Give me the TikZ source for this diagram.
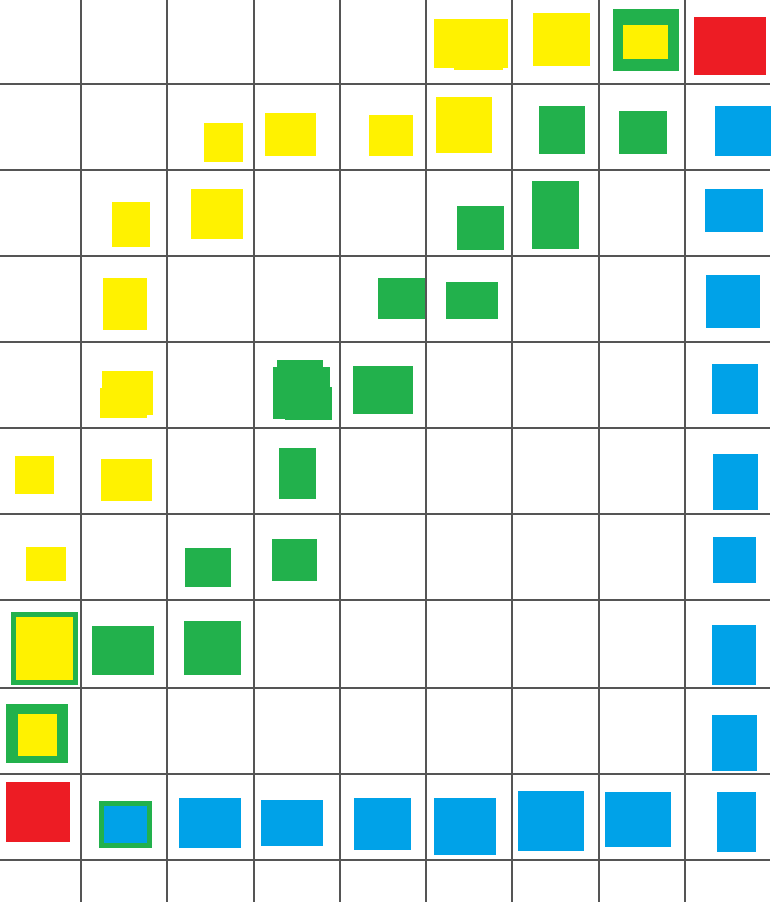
\documentclass[tikz,border=0pt]{standalone}
\definecolor{yel}{RGB}{255,242,0}
\definecolor{grn}{RGB}{34,177,76}
\definecolor{rd}{RGB}{237,28,36}
\definecolor{blu}{RGB}{0,162,232}
\definecolor{gridc}{RGB}{85,85,85}
\begin{document}
\begin{tikzpicture}[x=1pt,y=-1pt,
  gridline/.style={draw=gridc,line width=2.6pt},
  Y/.style={fill=yel},
  G/.style={fill=grn},
  R/.style={fill=rd},
  B/.style={fill=blu}]
\useasboundingbox[fill=white] (0,0) rectangle (780,902);
% grid
\foreach \x in {81,167,254,340,426,512,599,685}
  \draw[gridline] (\x,0) -- (\x,902);
\foreach \y in {84,170,256,342,428,514,600,688,774,860}
  \draw[gridline] (0,\y) -- (770,\y);
% row 1
\fill[Y] (434,19) rectangle (508,68);
\fill[Y] (454,19) rectangle (503,70);
\fill[Y] (533,13) rectangle (590,66);
\fill[G] (613,9) rectangle (679,71);
\fill[Y] (623,25) rectangle (668,59);
\fill[R] (694,17) rectangle (766,75);
% row 2
\fill[Y] (204,123) rectangle (243,162);
\fill[Y] (265,113) rectangle (316,156);
\fill[Y] (369,115) rectangle (413,156);
\fill[Y] (436,97) rectangle (492,153);
\fill[G] (539,106) rectangle (585,154);
\fill[G] (619,111) rectangle (667,154);
\fill[B] (715,106) rectangle (771,156);
% row 3
\fill[Y] (112,202) rectangle (150,247);
\fill[Y] (191,189) rectangle (243,239);
\fill[G] (457,206) rectangle (504,250);
\fill[G] (532,181) rectangle (579,249);
\fill[B] (705,189) rectangle (763,232);
% row 4
\fill[Y] (103,278) rectangle (147,330);
\fill[G] (378,278) rectangle (425,319);
\fill[G] (446,282) rectangle (498,319);
\fill[B] (706,275) rectangle (760,328);
% row 5
\fill[Y] (102,371) rectangle (153,415);
\fill[Y] (100,388) rectangle (147,418);
\fill[G] (277,360) rectangle (323,370);
\fill[G] (273,367) rectangle (330,419);
\fill[G] (285,387) rectangle (332,420);
\fill[G] (353,366) rectangle (413,414);
\fill[B] (712,364) rectangle (758,414);
% row 6
\fill[Y] (15,456) rectangle (54,494);
\fill[Y] (101,459) rectangle (152,501);
\fill[G] (279,448) rectangle (316,499);
\fill[B] (713,454) rectangle (758,510);
% row 7
\fill[Y] (26,547) rectangle (66,581);
\fill[G] (185,548) rectangle (231,587);
\fill[G] (272,539) rectangle (317,581);
\fill[B] (713,537) rectangle (756,583);
% row 8
\fill[G] (11,612) rectangle (78,685);
\fill[Y] (16,617) rectangle (73,680);
\fill[G] (92,626) rectangle (154,675);
\fill[G] (184,621) rectangle (241,675);
\fill[B] (712,625) rectangle (756,685);
% row 9
\fill[G] (6,704) rectangle (68,763);
\fill[Y] (18,714) rectangle (57,756);
\fill[B] (712,715) rectangle (757,771);
% row 10
\fill[R] (6,782) rectangle (70,842);
\fill[G] (99,801) rectangle (152,848);
\fill[B] (104,806) rectangle (147,843);
\fill[B] (179,798) rectangle (241,848);
\fill[B] (261,800) rectangle (323,846);
\fill[B] (354,798) rectangle (411,850);
\fill[B] (434,798) rectangle (496,855);
\fill[B] (518,791) rectangle (584,851);
\fill[B] (605,792) rectangle (671,847);
\fill[B] (717,792) rectangle (756,852);
\end{tikzpicture}
\end{document}
